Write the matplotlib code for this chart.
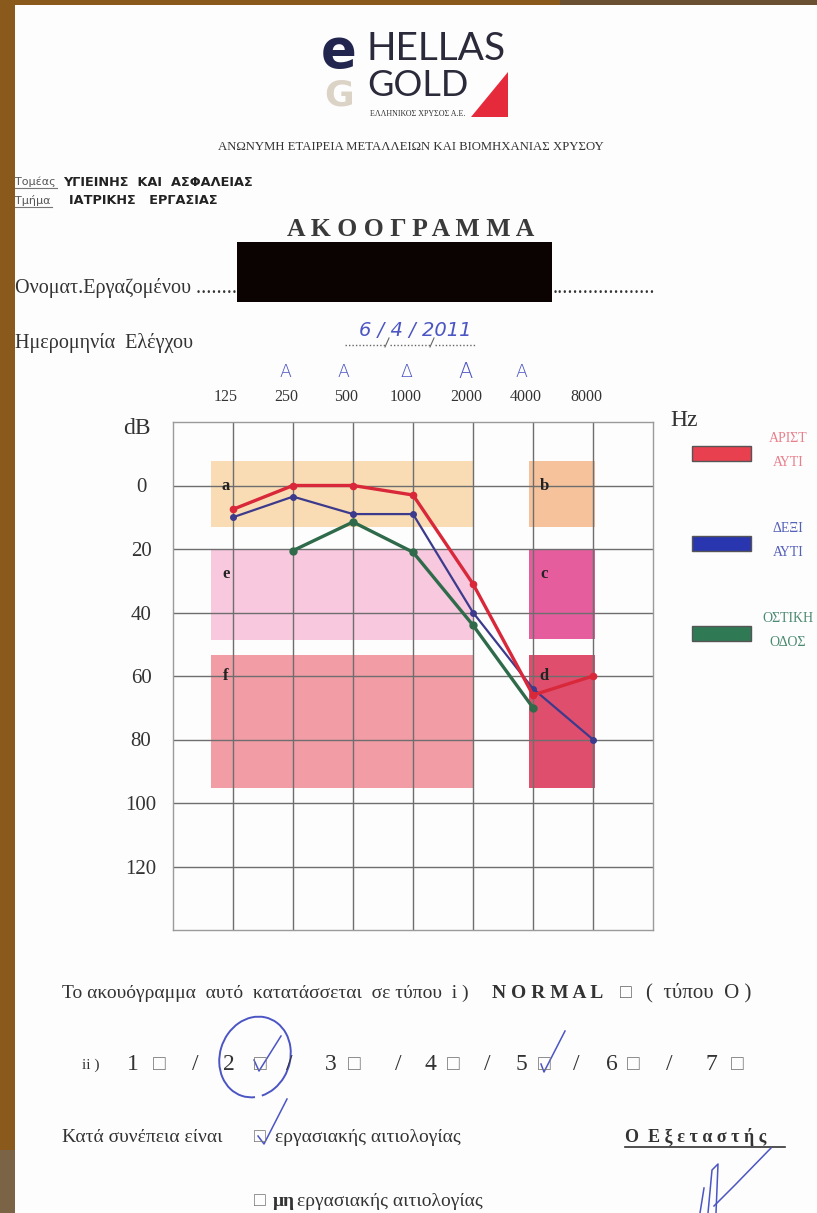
import numpy as np
import matplotlib.pyplot as plt
from matplotlib.patches import Rectangle, Polygon, Arc
from matplotlib.transforms import ScaledTranslation

# audiogram values (dB HL)
freqs = [125, 250, 500, 1000, 2000, 4000, 8000]
freq_labels = ["125", "250", "500", "1000", "2000", "4000", "8000"]
left_ear = [7.5, 0, 0, 3, 31, 66, 60]
right_ear = [10, 3.5, 9, 9, 40, 64, 80]
bone_freqs = [250, 500, 1000, 2000, 4000]
bone = [20.5, 11.5, 21, 44, 70]
db_ticks = [0, 20, 40, 60, 80, 100, 120]

# shaded classification zones: label, octave from, octave to, dB from, dB to, colour
zones = [
    ("a", -0.37, 4.0, -7.8, 13, "#f9dcb3"),
    ("b", 4.94, 6.04, -7.8, 13, "#f5c29c"),
    ("e", -0.37, 4.0, 20.2, 48.8, "#f7c8de"),
    ("c", 4.94, 6.04, 20.4, 48.4, "#e55d9d"),
    ("f", -0.37, 4.0, 53.4, 95.3, "#f29ca5"),
    ("d", 4.94, 6.04, 53.4, 95.3, "#df4f6d"),
]
zone_label_db = {"a": 0, "b": 0, "e": 28, "c": 28, "f": 60, "d": 60}

marks = ["A", "A", "Δ", "A", "A"]   # hand-written above 250..4000
mark_x = [285, 343, 406, 466, 521]

W, H = 817, 1213
SERIF = ["Liberation Serif", "DejaVu Serif"]
INK = "#333333"
PEN = "#4b55c4"

fig = plt.figure(figsize=(W / 100, H / 100), dpi=100)
fig.patch.set_facecolor("#8a5a1c")

# page layer in pixel coordinates
bg = fig.add_axes([0, 0, 1, 1])
bg.set_xlim(0, W)
bg.set_ylim(H, 0)
bg.axis("off")
bg.add_patch(Rectangle((560, 0), W - 560, 6, color="#6a5132", lw=0))
bg.add_patch(Rectangle((0, 1150), 15, 63, color="#7b6446", lw=0))
bg.add_patch(Rectangle((15, 5), W - 15, H - 5, color="#fdfdfd", lw=0))

# logo
bg.text(339, 52, "e", fontsize=38, fontweight="bold", color="#22264f",
        ha="center", va="center", family="DejaVu Sans")
bg.text(339, 96, "G", fontsize=26, fontweight="bold", color="#d6ccbd",
        ha="center", va="center", family="DejaVu Sans", alpha=0.85)
bg.text(367, 49, "HELLAS", fontsize=28, color="#2a2a3a", ha="left", va="center",
        family="Lato")
bg.text(367, 85, "GOLD", fontsize=26, color="#2a2a3a", ha="left", va="center",
        family="Lato")
bg.add_patch(Polygon([(471, 117), (508, 117), (508, 72)], color="#e52a3b", lw=0))
bg.text(370, 114, "ΕΛΛΗΝΙΚΟΣ ΧΡΥΣΟΣ Α.Ε.", fontsize=5.8, color="#333",
        ha="left", va="center", family=SERIF)
bg.text(411, 147, "ΑΝΩΝΥΜΗ ΕΤΑΙΡΕΙΑ ΜΕΤΑΛΛΕΙΩΝ ΚΑΙ ΒΙΟΜΗΧΑΝΙΑΣ ΧΡΥΣΟΥ",
        fontsize=9.2, color=INK, ha="center", va="center", family=SERIF)

# department block
bg.text(15, 182, "Τομέας", fontsize=8, color="#555", ha="left", va="center",
        family="DejaVu Sans")
bg.plot([15, 57], [188, 188], color="#777", lw=0.8)
bg.text(63, 182, "ΥΓΙΕΙΝΗΣ  ΚΑΙ  ΑΣΦΑΛΕΙΑΣ", fontsize=9.3, fontweight="bold",
        color="#222", ha="left", va="center", family="DejaVu Sans")
bg.text(15, 201, "Τμήμα", fontsize=8, color="#555", ha="left", va="center",
        family="DejaVu Sans")
bg.plot([15, 52], [207, 207], color="#777", lw=0.8)
bg.text(69, 201, "ΙΑΤΡΙΚΗΣ   ΕΡΓΑΣΙΑΣ", fontsize=9.3, fontweight="bold",
        color="#222", ha="left", va="center", family="DejaVu Sans")

bg.text(411, 229, "Α Κ Ο Ο Γ Ρ Α Μ Μ Α", fontsize=18.5, fontweight="bold",
        color="#3a3a3a", ha="center", va="center", family=SERIF)

bg.text(15, 293, "Ονοματ.Εργαζομένου ..............", fontsize=14.5, color=INK,
        ha="left", va="baseline", family=SERIF)
bg.add_patch(Rectangle((237, 242), 315, 60, color="#0b0202", lw=0, zorder=5))
bg.text(553, 293, "....................", fontsize=14.5, color=INK, ha="left",
        va="baseline", family=SERIF)

bg.text(15, 348, "Ημερομηνία  Ελέγχου", fontsize=14.5, color=INK, ha="left",
        va="baseline", family=SERIF)
# dotted fill-in line under the date
for x0, x1 in [(345, 385), (390, 430), (435, 475)]:
    bg.plot([x0, x1], [345, 345], color="#666", lw=1, linestyle=(0, (1, 1.5)))
for x in [387, 432]:
    bg.plot([x - 2, x + 2], [347, 338], color="#666", lw=0.8)
bg.text(415, 330, "6 / 4 / 2011", fontsize=14, color=PEN, ha="center",
        va="center", family="DejaVu Sans", style="italic", fontweight="light")

for m, x in zip(marks, mark_x):
    bg.text(x, 372, m, fontsize=12.5 if x != 466 else 15, color=PEN, ha="center",
            va="center", family="DejaVu Sans", fontweight="light")

bg.text(137, 429, "dB", fontsize=17, color=INK, ha="center", va="center",
        family=SERIF)
bg.text(684, 420, "Hz", fontsize=17, color=INK, ha="center", va="center",
        family=SERIF)

# legend boxes and captions
legend = [("#e8404e", ("ΑΡΙΣΤ", "ΑΥΤΙ"), "#e8808c", 446),
          ("#2a36b0", ("ΔΕΞΙ", "ΑΥΤΙ"), "#5560b8", 536),
          ("#2f7a55", ("ΟΣΤΙΚΗ", "ΟΔΟΣ"), "#4a8a70", 626)]
for fc, words, tc, y in legend:
    bg.add_patch(Rectangle((692, y), 59, 15, facecolor=fc, edgecolor="#555", lw=1))
    bg.text(788, y - 8, words[0], fontsize=10, color=tc, ha="center",
            va="center", family=SERIF)
    bg.text(788, y + 16, words[1], fontsize=10, color=tc, ha="center",
            va="center", family=SERIF)

# audiogram grid
ax = fig.add_axes([173 / W, (H - 930) / H, 480 / W, 508 / H])
ax.set_facecolor("none")
ax.set_xscale("log", base=2)
ax.set_xlim(125 / 2, 125 * 2 ** 7)
ax.set_ylim(140, -20)

for lab, x0, x1, y0, y1, c in zones:
    ax.add_patch(Rectangle((125 * 2 ** x0, y0), 125 * 2 ** x1 - 125 * 2 ** x0,
                           y1 - y0, color=c, lw=0, zorder=0))
    ax.text(125 * 2 ** (x0 + 0.25), zone_label_db[lab], lab, fontsize=12,
            fontweight="bold", color="#222", ha="center", va="center",
            family=SERIF, zorder=3)

for f in freqs:
    ax.axvline(f, color="#6e6e6e", lw=1, zorder=1)
for d in db_ticks:
    ax.axhline(d, color="#6e6e6e", lw=1, zorder=1)
for s in ax.spines.values():
    s.set_color("#9a9a9a")
    s.set_linewidth(1)

ax.plot(freqs, right_ear, color="#3c3a8c", lw=1.6, marker="o", ms=4, zorder=4)
ax.plot(freqs, left_ear, color="#d8283a", lw=2.4, marker="o", ms=4.5, zorder=5)
ax.plot(bone_freqs, bone, color="#2f6b4a", lw=2.4, marker="o", ms=5, zorder=4)

ax.minorticks_off()
ax.set_xticks(freqs)
ax.set_xticklabels(freq_labels, fontsize=11.5, family=SERIF, color=INK)
ax.xaxis.tick_top()
ax.tick_params(axis="x", length=0, pad=12)
for lbl in ax.get_xticklabels():
    lbl.set_transform(lbl.get_transform() + ScaledTranslation(-0.07, 0, fig.dpi_scale_trans))
ax.set_yticks(db_ticks)
ax.set_yticklabels([str(d) for d in db_ticks], fontsize=15, family=SERIF, color=INK)
ax.tick_params(axis="y", length=0, pad=23)
for lbl in ax.get_yticklabels():
    lbl.set_horizontalalignment("center")

# classification text at the bottom
box = ["Liberation Serif", "DejaVu Sans"]
bg.text(62, 993, "Το ακουόγραμμα  αυτό  κατατάσσεται  σε τύπου  i )", fontsize=14,
        color=INK, ha="left", va="center", family=SERIF)
bg.text(492, 993, "N O R M A L", fontsize=14, fontweight="bold", color=INK,
        ha="left", va="center", family=SERIF)
bg.text(626, 993, "□", fontsize=14, color="#666", ha="center", va="center", family=box)
bg.text(646, 993, "(  τύπου  O )", fontsize=15, color=INK, ha="left", va="center",
        family=SERIF)

row2 = [("ii )", 91, 11), ("1", 133, 17), ("/", 195, 17), ("2", 229, 17),
        ("/", 289, 17), ("3", 331, 17), ("/", 398, 17), ("4", 430, 17),
        ("/", 487, 17), ("5", 521, 17), ("/", 576, 17), ("6", 612, 17),
        ("/", 669, 17), ("7", 711, 17)]
for t, x, fs in row2:
    bg.text(x, 1065, t, fontsize=fs, color=INK, ha="center", va="center", family=SERIF)
for x in [159, 260, 354, 453, 544, 633, 737]:
    bg.text(x, 1065, "□", fontsize=15, color="#777", ha="center", va="center", family=box)

bg.text(62, 1137, "Κατά συνέπεια είναι", fontsize=14, color=INK, ha="left",
        va="center", family=SERIF)
bg.text(260, 1137, "□", fontsize=14, color="#777", ha="center", va="center", family=box)
bg.text(275, 1137, "εργασιακής αιτιολογίας", fontsize=14, color=INK, ha="left",
        va="center", family=SERIF)
bg.text(625, 1137, "Ο  Ε ξ ε τ α σ τ ή ς", fontsize=13, fontweight="bold",
        color=INK, ha="left", va="center", family=SERIF)
bg.plot([625, 785], [1147, 1147], color=INK, lw=1.2)
bg.text(260, 1201, "□", fontsize=14, color="#777", ha="center", va="center", family=box)
bg.text(273, 1201, "μη", fontsize=14, fontweight="bold", color=INK, ha="left",
        va="center", family=SERIF)
bg.text(297, 1201, "εργασιακής αιτιολογίας", fontsize=14, color=INK, ha="left",
        va="center", family=SERIF)

# pen marks
bg.add_patch(Arc((255, 1057), 70, 82, angle=20, theta1=70, theta2=420,
                 color=PEN, lw=1.4))
for pts in [[(254, 1060), (259, 1071), (281, 1036)],
            [(541, 1064), (544, 1072), (565, 1031)],
            [(258, 1136), (264, 1144), (287, 1099)],
            [(771, 1148), (735, 1185), (714, 1206)],
            [(708, 1213), (712, 1170), (718, 1164), (716, 1213)],
            [(700, 1213), (704, 1188)]]:
    xs, ys = zip(*pts)
    bg.plot(xs, ys, color=PEN, lw=1.1)

fig.savefig("out.png", dpi=100)
